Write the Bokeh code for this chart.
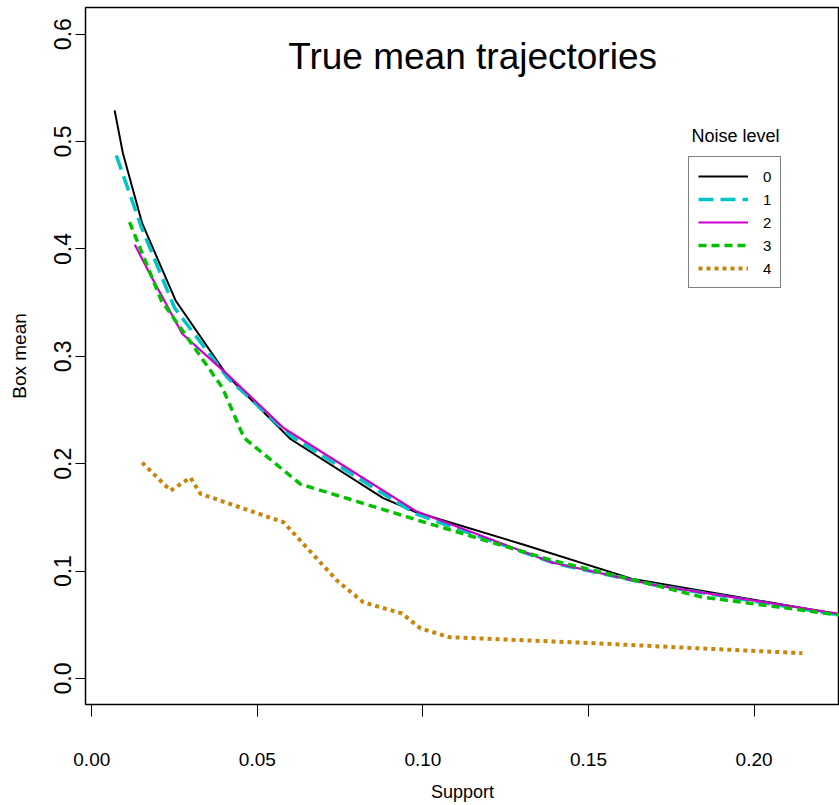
from bokeh.plotting import figure
from bokeh.models import (Range1d, FixedTicker, PrintfTickFormatter, Legend, LegendItem, Label)
from bokeh.embed import file_html
from bokeh.resources import INLINE

# ---- data ----
x0 = [0.0069, 0.0094, 0.0152, 0.0253, 0.0409, 0.0600, 0.0880, 0.0978, 0.1300, 0.1630, 0.2260]
y0 = [0.529, 0.489, 0.424, 0.352, 0.282, 0.223, 0.168, 0.155, 0.125, 0.093, 0.0596]

x1 = [0.0074, 0.0150, 0.0250, 0.0410, 0.0600, 0.0880, 0.0980, 0.1400, 0.1700, 0.2260]
y1 = [0.487, 0.420, 0.345, 0.280, 0.226, 0.172, 0.153, 0.107, 0.087, 0.059]

x2 = [0.0130, 0.0170, 0.0273, 0.0410, 0.0580, 0.0978, 0.1390, 0.1700, 0.2260]
y2 = [0.404, 0.380, 0.321, 0.283, 0.233, 0.156, 0.108, 0.087, 0.060]

x3 = [0.0114, 0.0210, 0.0394, 0.0460, 0.0630, 0.1000, 0.1390, 0.1700, 0.1840, 0.2260]
y3 = [0.425, 0.352, 0.271, 0.224, 0.181, 0.146, 0.110, 0.087, 0.076, 0.059]

x4 = [0.0152, 0.0238, 0.0298, 0.0328, 0.0579, 0.0741, 0.0820, 0.0937, 0.0993, 0.1080, 0.1536, 0.1840, 0.2146]
y4 = [0.201, 0.175, 0.187, 0.172, 0.1455, 0.091, 0.071, 0.0605, 0.0466, 0.0385, 0.0326, 0.028, 0.0236]

noise_levels = ["0", "1", "2", "3", "4"]
x_ticks = [0.00, 0.05, 0.10, 0.15, 0.20]
y_ticks = [0.0, 0.1, 0.2, 0.3, 0.4, 0.5, 0.6]

SANS = "Liberation Sans, Arial, sans-serif"

p = figure(width=839, height=805, output_backend="svg", toolbar_location=None,
           x_range=Range1d(-0.0019, 0.2258), y_range=Range1d(-0.0242, 0.6248),
           min_border_left=85, min_border_right=0, min_border_top=7, min_border_bottom=101)
p.background_fill_color = "white"
p.border_fill_color = "white"
p.outline_line_color = "black"
p.outline_line_width = 1.5
p.xgrid.visible = False
p.ygrid.visible = False

# axes
p.xaxis.ticker = FixedTicker(ticks=x_ticks)
p.xaxis.formatter = PrintfTickFormatter(format="%.2f")
p.yaxis.ticker = FixedTicker(ticks=y_ticks)
p.yaxis.formatter = PrintfTickFormatter(format="%.1f")
for ax in (p.xaxis[0], p.yaxis[0]):
    ax.axis_line_color = None
    ax.minor_tick_line_color = None
    ax.major_tick_in = 0
    ax.major_tick_line_color = "black"
    ax.major_tick_line_width = 1
    ax.major_label_text_color = "black"
    ax.axis_label_text_color = "black"
    ax.axis_label_text_font_style = "normal"

p.xaxis.major_tick_out = 12
p.xaxis.major_label_standoff = 36
p.xaxis.major_label_text_font = SANS
p.xaxis.major_label_text_font_size = "19px"
p.xaxis.axis_label = "Support"
p.xaxis.axis_label_text_font = SANS
p.xaxis.axis_label_text_font_size = "18px"
p.xaxis.axis_label_standoff = 13

p.yaxis.major_tick_out = 10
p.yaxis.major_label_standoff = 4
p.yaxis.major_label_orientation = "vertical"
p.yaxis.major_label_text_font = SANS
p.yaxis.major_label_text_font_size = "23px"
p.yaxis.axis_label = "Box mean"
p.yaxis.axis_label_text_font = SANS
p.yaxis.axis_label_text_font_size = "19px"
p.yaxis.axis_label_standoff = 22

# lines
r0 = p.line(x0, y0, line_color="#000000", line_width=2)
r1 = p.line(x1, y1, line_color="#00C5C5", line_width=3.5, line_dash="15 7")
r2 = p.line(x2, y2, line_color="#CC00CC", line_width=2.2)
r3 = p.line(x3, y3, line_color="#00C000", line_width=3.5, line_dash="8 5")
r4 = p.line(x4, y4, line_color="#C8860C", line_width=4, line_dash="4 4")

legend = Legend(items=[LegendItem(label=lab, renderers=[r]) for lab, r in
                       zip(noise_levels, [r0, r1, r2, r3, r4])],
                location=(603, 416), orientation="vertical",
                glyph_width=50, glyph_height=20, label_height=20, label_width=7,
                spacing=3, padding=9, margin=0, label_standoff=15,
                border_line_color="black", border_line_width=1.8,
                background_fill_color="white", background_fill_alpha=1,
                label_text_font=SANS, label_text_font_size="15px",
                label_text_color="black")
p.add_layout(legend, "center")

title = Label(x=0.115, y=0.579, text="True mean trajectories", text_align="center",
              text_baseline="alphabetic", text_font=SANS, text_font_size="37px",
              text_color="black")
p.add_layout(title)
leg_title = Label(x=0.1944, y=0.505, text="Noise level", text_align="center",
                  text_baseline="alphabetic", text_font=SANS, text_font_size="18px",
                  text_color="black")
p.add_layout(leg_title)

open("out.html", "w").write(file_html(p, INLINE))
